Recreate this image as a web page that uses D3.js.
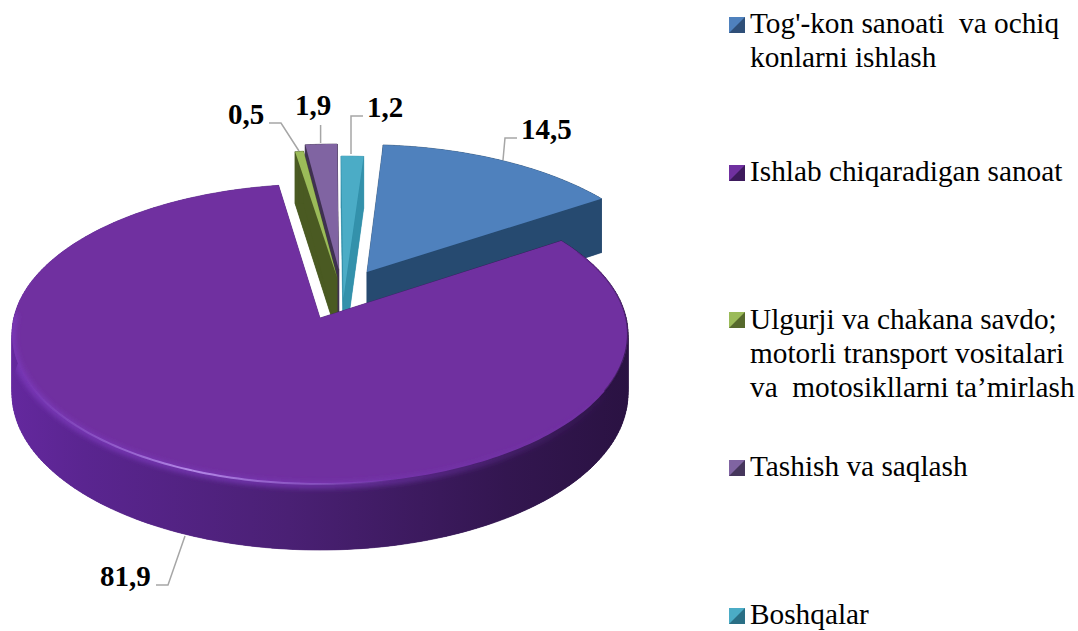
<!DOCTYPE html>
<html>
<head>
<meta charset="utf-8">
<script src="https://cdn.jsdelivr.net/npm/d3@7"></script>
<style>
	html, body { margin: 0; padding: 0; background: #fff; }
	svg { display: block; }
	text { font-family: "Liberation Serif", "Times New Roman", serif; fill: #000; }
	.value { font-size: 29px; font-weight: bold; }
	.legend-text { font-size: 29.3px; }
	.leader { fill: none; stroke: #a6a6a6; stroke-width: 1.5; }
</style>
</head>
<body>
<svg width="1078" height="631"></svg>
<script>
// Chart values
let categories = [
	"Tog'-kon sanoati  va ochiq konlarni ishlash",
	'Ishlab chiqaradigan sanoat',
	'Ulgurji va chakana savdo; motorli transport vositalari va  motosikllarni ta’mirlash',
	'Tashish va saqlash',
	'Boshqalar'
];
let values = [14.5, 81.9, 0.5, 1.9, 1.2];
let valueLabels = ['14,5', '81,9', '0,5', '1,9', '1,2'];
let legendLines = [
	["Tog'-kon sanoati  va ochiq", 'konlarni ishlash'],
	['Ishlab chiqaradigan sanoat'],
	['Ulgurji va chakana savdo;', 'motorli transport vositalari', 'va  motosikllarni ta’mirlash'],
	['Tashish va saqlash'],
	['Boshqalar']
];

let topColors = ['#4f81bd', '#7030a0', '#9bbb59', '#8064a2', '#4bacc6'];
let wallColors = ['#264a70', 'url(#purpleWall)', '#4a5a22', '#3f3151', '#3391ab'];
let markerDark = ['#2f4f78', '#3d1a5c', '#56692c', '#46365c', '#2a6f85'];

// Pie layout: how far each slice is pulled out on the disc, and its radius
let pullU = [0.1587, 0, 0.0572, 0.0635, 0.0776];
let pullV = [-0.3208, 0, -0.285, -0.341, -0.136];
let sliceRadius = [1.015, 1, 1, 1, 1.1];
// draw order back to front, the big slice covers the others
let drawOrder = [0, 3, 2, 4, 1];

let svg = d3.select('svg');
let defs = svg.append('defs');

// Camera for the tilted disc
let cx = 320, cy = 318, scaleX = 306.2, scaleY = 148.3, tilt = 0.1067, depth = 59;

function project(u, v, z) {
	let den = 1 - tilt * v;
	return [cx + scaleX * u / den, cy + (scaleY * v + depth * z) / den];
}

let pie = d3.pie().sort(null).value(function(d) { return d; })
	.startAngle(4.36 * Math.PI / 180)
	.endAngle((360 + 4.36) * Math.PI / 180);
let slices = pie(values);

function outline(i, z) {
	let s = slices[i];
	let r = sliceRadius[i];
	let steps = Math.max(2, Math.ceil((s.endAngle - s.startAngle) / 0.02));
	let angles = d3.range(steps + 1).map(function(k) {
		return s.startAngle + (s.endAngle - s.startAngle) * k / steps;
	});
	let pts = angles.map(function(a) {
		return project(pullU[i] + r * Math.sin(a), pullV[i] - r * Math.cos(a), z);
	});
	pts.unshift(project(pullU[i], pullV[i], z));
	return pts;
}

function rimArc(a0, a1, z) {
	let n = 120;
	return d3.range(n + 1).map(function(k) {
		let a = (a0 + (a1 - a0) * k / n) * Math.PI / 180;
		return project(Math.sin(a), -Math.cos(a), z);
	});
}

let line = d3.line();

let wallGrad = defs.append('linearGradient').attr('id', 'purpleWall')
	.attr('gradientUnits', 'userSpaceOnUse')
	.attr('x1', 10).attr('x2', 630).attr('y1', 0).attr('y2', 0);
wallGrad.append('stop').attr('offset', 0).attr('stop-color', '#64289e');
wallGrad.append('stop').attr('offset', 0.12).attr('stop-color', '#5a2590');
wallGrad.append('stop').attr('offset', 0.45).attr('stop-color', '#4a2074');
wallGrad.append('stop').attr('offset', 0.8).attr('stop-color', '#331650');
wallGrad.append('stop').attr('offset', 1).attr('stop-color', '#2a1242');

let lightGrad = defs.append('linearGradient').attr('id', 'rimLight')
	.attr('gradientUnits', 'userSpaceOnUse')
	.attr('x1', 20).attr('x2', 400).attr('y1', 0).attr('y2', 0);
lightGrad.append('stop').attr('offset', 0).attr('stop-color', '#9a6ad8').attr('stop-opacity', 0);
lightGrad.append('stop').attr('offset', 0.45).attr('stop-color', '#b58ae8').attr('stop-opacity', 1);
lightGrad.append('stop').attr('offset', 1).attr('stop-color', '#9a6ad8').attr('stop-opacity', 0);

let softGrad = defs.append('linearGradient').attr('id', 'rimSoft')
	.attr('gradientUnits', 'userSpaceOnUse')
	.attr('x1', 10).attr('x2', 620).attr('y1', 0).attr('y2', 0);
softGrad.append('stop').attr('offset', 0).attr('stop-color', '#7a38b8').attr('stop-opacity', 0.9);
softGrad.append('stop').attr('offset', 0.5).attr('stop-color', '#7a38b8').attr('stop-opacity', 0.7);
softGrad.append('stop').attr('offset', 1).attr('stop-color', '#7a38b8').attr('stop-opacity', 0);

let darkGrad = defs.append('linearGradient').attr('id', 'rimDark')
	.attr('gradientUnits', 'userSpaceOnUse')
	.attr('x1', 0).attr('x2', 0).attr('y1', 240).attr('y2', 430);
darkGrad.append('stop').attr('offset', 0).attr('stop-color', '#2a1242').attr('stop-opacity', 0.1);
darkGrad.append('stop').attr('offset', 0.6).attr('stop-color', '#2a1242').attr('stop-opacity', 0.75);
darkGrad.append('stop').attr('offset', 1).attr('stop-color', '#2a1242').attr('stop-opacity', 0.2);

defs.append('filter').attr('id', 'soft').attr('x', '-5%').attr('y', '-5%').attr('width', '110%').attr('height', '110%')
	.append('feGaussianBlur').attr('stdDeviation', 2.5);
defs.append('filter').attr('id', 'softThin').attr('x', '-5%').attr('y', '-5%').attr('width', '110%').attr('height', '110%')
	.append('feGaussianBlur').attr('stdDeviation', 0.7);

// keep the blurred bevel inside the big slice
let rimClip = defs.append('clipPath').attr('id', 'rimClip');
rimClip.append('path').attr('d', line(outline(1, 0)) + 'Z');
rimClip.append('path').attr('d', line(rimArc(60, 300, 0).concat(rimArc(300, 60, 1))) + 'Z');

// Slices: bottom, side walls, then top face
let pieGroup = svg.append('g').attr('class', 'pie');
drawOrder.forEach(function(i) {
	let g = pieGroup.append('g').attr('class', 'slice');
	let top = outline(i, 0);
	let bottom = outline(i, 1);
	g.append('path').attr('d', line(bottom) + 'Z').attr('fill', wallColors[i]);
	// connect top and bottom outlines so the wall has no holes
	d3.range(top.length).forEach(function(k) {
		let n = (k + 1) % top.length;
		g.append('path')
			.attr('d', line([top[k], top[n], bottom[n], bottom[k]]) + 'Z')
			.attr('fill', wallColors[i])
			.attr('stroke', wallColors[i])
			.attr('stroke-width', 0.6);
	});
	g.append('path').attr('d', line(top) + 'Z').attr('fill', topColors[i]);
});

// Soft bevel on the rim of the big slice
let rimGroup = pieGroup.append('g').attr('clip-path', 'url(#rimClip)');
rimGroup.append('path').attr('class', 'rim')
	.attr('d', line(rimArc(118, 272, 0.02)))
	.attr('fill', 'none')
	.attr('stroke', 'url(#rimSoft)')
	.attr('stroke-width', 7)
	.attr('filter', 'url(#soft)');
rimGroup.append('path').attr('class', 'rim')
	.attr('d', line(rimArc(150, 285, 0)))
	.attr('fill', 'none')
	.attr('stroke', 'url(#rimLight)')
	.attr('stroke-width', 2)
	.attr('filter', 'url(#softThin)');
rimGroup.append('path').attr('class', 'rim')
	.attr('d', line(rimArc(62, 118, 0)))
	.attr('fill', 'none')
	.attr('stroke', 'url(#rimDark)')
	.attr('stroke-width', 2)
	.attr('filter', 'url(#softThin)');

// Leader lines
let leaders = [
	[[517, 138], [505, 138], [503, 160]],
	[[156, 585], [168, 585], [185, 536]],
	[[269, 123], [281, 123], [299, 151]],
	[[320.6, 125], [320.6, 143]],
	[[363, 116], [351, 116], [351, 154]]
];
svg.append('g').selectAll('path').data(leaders).enter().append('path')
	.attr('class', 'leader')
	.attr('d', function(d) { return line(d); });

// Value labels
let labelX = [521, 100, 228, 295, 367];
let labelY = [139, 586, 124, 115, 117];
svg.append('g').selectAll('text').data(valueLabels).enter().append('text')
	.attr('class', 'value')
	.attr('x', function(d, i) { return labelX[i]; })
	.attr('y', function(d, i) { return labelY[i]; })
	.text(function(d) { return d; });

// Legend
let legendY = [33, 181, 329, 476, 624];
let markerY = [17, 165, 312, 460, 608];
let legend = svg.append('g').attr('class', 'legend');
categories.forEach(function(name, i) {
	let g = legend.append('g').attr('class', 'legend-item');
	g.append('rect').attr('x', 729).attr('y', markerY[i]).attr('width', 16).attr('height', 16)
		.attr('fill', markerDark[i]);
	g.append('path')
		.attr('d', line([[729, markerY[i]], [745, markerY[i]], [729, markerY[i] + 16]]) + 'Z')
		.attr('fill', topColors[i]);
	legendLines[i].forEach(function(txt, k) {
		g.append('text').attr('class', 'legend-text')
			.attr('x', 750)
			.attr('y', legendY[i] + k * 34)
			.attr('xml:space', 'preserve')
			.style('white-space', 'pre')
			.text(txt);
	});
});
</script>
</body>
</html>
